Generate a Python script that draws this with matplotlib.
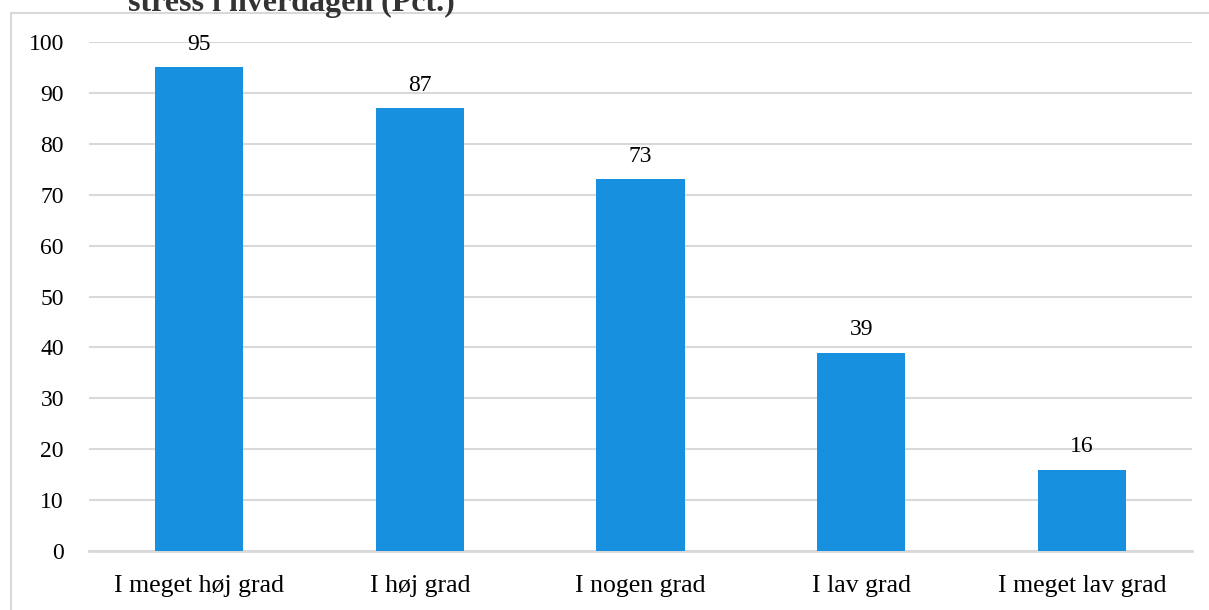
import matplotlib.pyplot as plt
from matplotlib.patches import Rectangle

# --- Data ---
categories = ["I meget høj grad", "I høj grad", "I nogen grad", "I lav grad", "I meget lav grad"]
values = [95, 87, 73, 39, 16]
yticks = [0, 10, 20, 30, 40, 50, 60, 70, 80, 90, 100]
title = "stress i hverdagen (Pct.)"

plt.rcParams['font.family'] = ['Liberation Serif', 'DejaVu Serif']

fig = plt.figure(figsize=(12.09, 6.10), dpi=100)
ax = fig.add_axes([0.0736, 0.0967, 0.9124, 0.8344])

bar_color = '#1790E0'
grid_color = '#D9D9D9'

x = range(len(categories))
bars = ax.bar(x, values, width=0.4, color=bar_color, zorder=3)

# value labels over bars
for b, v in zip(bars, values):
    ax.annotate(str(v), (b.get_x() + b.get_width() / 2, v),
                xytext=(0, 9), textcoords='offset points',
                ha='center', va='bottom', fontsize=17, color='#000000')

ax.set_xlim(-0.5, len(categories) - 0.5)
ax.set_ylim(0, 100)
ax.set_yticks(yticks)
ax.set_xticks(list(x))
ax.set_xticklabels(categories, fontsize=18.5)
ax.tick_params(axis='both', length=0, colors='#000000')
ax.tick_params(axis='y', pad=18, labelsize=17)
ax.tick_params(axis='x', pad=17)

ax.grid(axis='y', color=grid_color, linewidth=1.5, zorder=0)
for s in ['top', 'right', 'left']:
    ax.spines[s].set_visible(False)
ax.spines['bottom'].set_color(grid_color)
ax.spines['bottom'].set_linewidth(2)

# chart frame (top/left visible, rest runs off the image)
fig.patches.append(Rectangle((11 / 1209, -0.1), 1.2, 0.1 + 597 / 610,
                             transform=fig.transFigure, fill=False,
                             edgecolor=grid_color, linewidth=1.5))

# title, cut off at the top of the image
fig.text(128 / 1209, (610 - 11) / 610, title, ha='left', va='baseline',
         fontsize=23, fontweight='bold', color='#333333')

fig.savefig('out.png', dpi=100)
